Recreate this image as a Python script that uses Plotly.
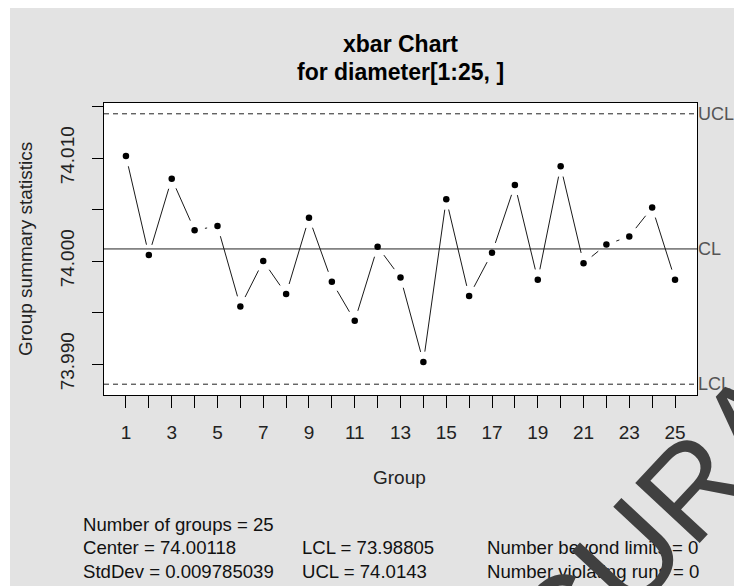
import math
import plotly.graph_objects as go

# ---- data: subgroup means of piston-ring diameters (first 25 samples) ----
groups = list(range(1, 26))
group_means = [74.0102, 74.0006, 74.0080, 74.0030, 74.0034, 73.9956, 74.0000,
               73.9968, 74.0042, 73.9980, 73.9942, 74.0014, 73.9984, 73.9902,
               74.0060, 73.9966, 74.0008, 74.0074, 73.9982, 74.0092, 73.9998,
               74.0016, 74.0024, 74.0052, 73.9982]
center_line = 74.00118
lcl = 73.98805
ucl = 74.0143
std_dev = 0.009785039

x_tick_vals = list(range(1, 26))
x_tick_text = [str(g) if g % 2 == 1 else "" for g in x_tick_vals]
y_tick_vals = [73.990, 73.995, 74.000, 74.005, 74.010, 74.015]
y_tick_text = ["73.990", "", "74.000", "", "74.010", ""]

stats_lines = [
    "Number of groups = 25",
    "Center = 74.00118",
    "StdDev = 0.009785039",
]
limit_lines = ["LCL = 73.98805", "UCL = 74.0143"]
rule_lines = ["Number beyond limits = 0", "Number violating runs = 0"]

# ---- page geometry ----
W, H = 734, 586
ML, MR, MT, MB = 104, 37, 103, 191
PW, PH = W - ML - MR, H - MT - MB

# axis ranges padded 4% as in base graphics
xr = [min(groups) - 0.04 * (max(groups) - min(groups)),
      max(groups) + 0.04 * (max(groups) - min(groups))]
lo = min(min(group_means), lcl)
hi = max(max(group_means), ucl)
yr = [lo - 0.04 * (hi - lo), hi + 0.04 * (hi - lo)]

FONT = "Liberation Sans, Arial, sans-serif"


def px_x(px):
    return (px - ML) / PW


def px_y(py):
    return (H - MB - py) / PH


# connecting segments that stop short of each point (type="b" style)
GAP = 10.5
sx_per = PW / (xr[1] - xr[0])
sy_per = PH / (yr[1] - yr[0])
seg_x, seg_y = [], []
for i in range(len(groups) - 1):
    x0, y0 = groups[i], group_means[i]
    x1, y1 = groups[i + 1], group_means[i + 1]
    L = math.hypot((x1 - x0) * sx_per, (y1 - y0) * sy_per)
    if L <= 2 * GAP:
        continue
    f = GAP / L
    seg_x += [x0 + (x1 - x0) * f, x1 - (x1 - x0) * f, None]
    seg_y += [y0 + (y1 - y0) * f, y1 - (y1 - y0) * f, None]

fig = go.Figure()

# control limits and centre line
for val, dash in [(ucl, "5px,4px"), (lcl, "5px,4px"), (center_line, "solid")]:
    fig.add_trace(go.Scatter(x=xr, y=[val, val], mode="lines",
                             line=dict(color="#222222", width=1, dash=dash),
                             hoverinfo="skip", showlegend=False))

fig.add_trace(go.Scatter(x=seg_x, y=seg_y, mode="lines",
                         line=dict(color="#1a1a1a", width=1),
                         hoverinfo="skip", showlegend=False))
fig.add_trace(go.Scatter(x=groups, y=group_means, mode="markers",
                         marker=dict(color="black", size=6.5),
                         showlegend=False))

annotations = []
# titles
annotations.append(dict(text="<b>xbar Chart</b>", x=px_x(400), y=px_y(44),
                        font=dict(size=23, color="black", family=FONT)))
annotations.append(dict(text="<b>for diameter[1:25, ]</b>", x=px_x(400), y=px_y(72),
                        font=dict(size=23, color="black", family=FONT)))
annotations.append(dict(text="Group", x=px_x(399), y=px_y(477),
                        font=dict(size=19, color="#222222", family=FONT)))
annotations.append(dict(text="Group summary statistics", x=px_x(25), y=px_y(249),
                        textangle=-90, font=dict(size=19, color="#222222", family=FONT)))

# control line labels on the right
for lab, val in [("UCL", ucl), ("CL", center_line), ("LCL", lcl)]:
    annotations.append(dict(text=lab, xref="paper", yref="y", x=1, y=val,
                            xanchor="left", xshift=-1,
                            font=dict(size=18, color="#555555", family=FONT)))

# summary block
for i, t in enumerate(stats_lines):
    annotations.append(dict(text=t, x=px_x(81), y=px_y(524 + 23.5 * i), xanchor="left",
                            font=dict(size=18.6, color="#111111", family=FONT)))
for i, t in enumerate(limit_lines):
    annotations.append(dict(text=t, x=px_x(300), y=px_y(547.5 + 23.5 * i), xanchor="left",
                            font=dict(size=18.6, color="#111111", family=FONT)))
for i, t in enumerate(rule_lines):
    annotations.append(dict(text=t, x=px_x(485), y=px_y(547.5 + 23.5 * i), xanchor="left",
                            font=dict(size=18.6, color="#111111", family=FONT)))

# watermark lettering across the lower-right corner
annotations.append(dict(text="CURA", x=px_x(657), y=px_y(523), textangle=-47,
                        font=dict(size=128, color="#404040",
                                  family="Liberation Sans, Arial")))

for a in annotations:
    a.setdefault("xref", "paper")
    a.setdefault("yref", "paper")
    a.setdefault("showarrow", False)
    a.setdefault("yanchor", "middle")
    a.setdefault("xanchor", "center")

# white border strips outside the grey panel
shapes = [
    dict(type="rect", xref="paper", yref="paper", x0=px_x(-5), x1=px_x(10),
         y0=px_y(H + 5), y1=px_y(-5), fillcolor="white", line_width=0, layer="below"),
    dict(type="rect", xref="paper", yref="paper", x0=px_x(-5), x1=px_x(W + 5),
         y0=px_y(8), y1=px_y(-5), fillcolor="white", line_width=0, layer="below"),
]

axis_common = dict(showgrid=False, zeroline=False, showline=True, mirror=True,
                   linecolor="black", linewidth=1, ticks="outside",
                   tickcolor="black", tickwidth=1,
                   tickfont=dict(size=19, color="#222222", family=FONT))

fig.update_layout(
    width=W, height=H,
    margin=dict(l=ML, r=MR, t=MT, b=MB, pad=0),
    paper_bgcolor="#e3e3e3", plot_bgcolor="white",
    xaxis=dict(range=xr, tickvals=x_tick_vals, ticktext=x_tick_text,
               ticklen=12, ticklabelstandoff=8, **axis_common),
    yaxis=dict(range=yr, tickvals=y_tick_vals, ticktext=y_tick_text,
               ticklen=11, tickangle=-90, ticklabelstandoff=10, **axis_common),
    annotations=annotations, shapes=shapes,
    showlegend=False,
)

fig.write_html("out.html")
